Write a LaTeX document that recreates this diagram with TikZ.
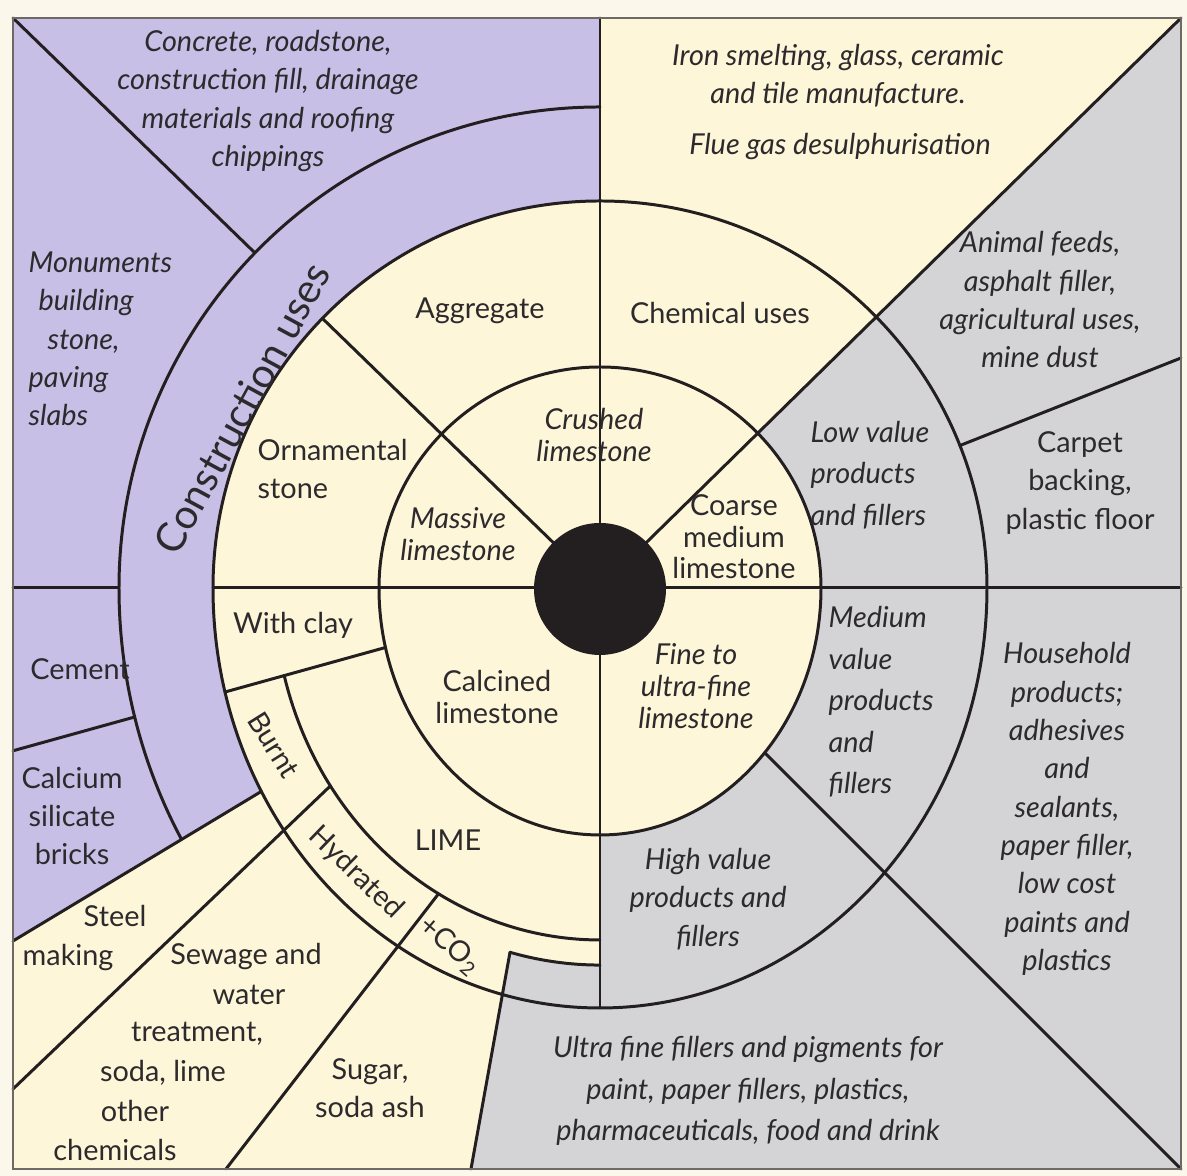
\documentclass[tikz,border=0pt]{standalone}
\usepackage{fontspec}
\setmainfont{Lato}
\newcommand\kFont{\fontsize{8.2pt}{10.9pt}\selectfont}
\newcommand\kTight{\fontsize{8.2pt}{9pt}\selectfont}
\newcommand\kLoose{\fontsize{8.2pt}{11.8pt}\selectfont}
\newcommand\kBig{\fontsize{11.6pt}{13pt}\selectfont}
\begin{document}
\begin{tikzpicture}[x=0.01cm,y=0.01cm,
  rim/.style={line width=0.85pt,color=kLine,line cap=round},
  lbl/.style={font=\kFont,text=kText,align=center,inner sep=0pt},
  ilbl/.style={lbl,font=\kFont\itshape}]
  \definecolor{kPurple}{RGB}{199,191,229}
  \definecolor{kCream}{RGB}{254,246,216}
  \definecolor{kGrey}{RGB}{212,212,215}
  \definecolor{kBack}{RGB}{251,247,234}
  \definecolor{kLine}{RGB}{35,31,32}
  \definecolor{kText}{RGB}{45,42,45}
  \definecolor{kFrame}{RGB}{110,105,100}

  \useasboundingbox (0,0) rectangle (1187,1176);
  \fill[kBack] (0,0) rectangle (1187,1176);
  \fill[kCream] (13,7) rectangle (1181,1158);

  % outer fields
  \fill[kPurple] (13,1158) -- (600,1158) -- (600,588) -- (13,235) -- cycle;
  \fill[kGrey] (600,588) -- (1181,1158) -- (1181,7) -- (471,7) -- (510,223.7)
    arc[start angle=255.05,end angle=270,x radius=349,y radius=377] -- cycle;

  % inner fields
  \fill[kCream] (600,588) -- (600,975) arc[start angle=90,end angle=180,radius=387] -- cycle;
  \fill[kCream] (600,588) -- (213,588) arc[start angle=180,end angle=270,x radius=387,y radius=420] -- cycle;
  \fill[kGrey] (510,223.7) arc[start angle=255.05,end angle=270,x radius=349,y radius=377]
    -- (600,168) arc[start angle=270,end angle=255.4,x radius=387,y radius=420] -- cycle;
  \fill[kCream] (821,588) arc[start angle=0,end angle=180,radius=221]
    arc[start angle=180,end angle=360,x radius=221,y radius=247] -- cycle;

  % dividers
  \foreach \ax/\ay/\bx/\by in { 600/1158/600/168, 213/588/1181/588, 13/588/119/588,
                                600/588/322.4/857.6, 254.9/923.1/13/1158,
                                600/588/1181/1158, 959.8/730.4/1181/818,
                                764.7/423.3/1181/7, 385.5/528.5/225.1/484.0,
                                134.7/459/13/425.2, 261.4/384.6/13/235,
                                330.4/390.1/13/87, 438.5/282.2/226/7, 471/7/510/223.7 }
  {
    \draw[rim] (\ax,\ay) -- (\bx,\by);
  }

  % rings
  \draw[rim] (821,588) arc[start angle=0,end angle=180,radius=221]
    arc[start angle=180,end angle=360,x radius=221,y radius=247];
  \draw[rim] (987,588) arc[start angle=0,end angle=180,radius=387]
    arc[start angle=180,end angle=360,x radius=387,y radius=420];
  \draw[rim] (600,1069) arc[start angle=90,end angle=180,radius=481]
    arc[start angle=180,end angle=209.5,x radius=481,y radius=510];
  \draw[rim] (284.2,500.5) arc[start angle=194.4,end angle=270,x radius=326,y radius=352];
  \draw[rim] (510,223.7) arc[start angle=255.05,end angle=270,x radius=349,y radius=377];

  \draw[line width=0.6pt,kFrame] (13,7) rectangle (1181,1158);
  \fill[kLine] (600,587) circle[radius=66];

  % labels
  \node[ilbl] (concrete) at (268,1075) {Concrete, roadstone,\\construction fill, drainage\\materials and roofing\\chippings};
  \node[ilbl,align=left,anchor=west] (monuments) at (28,837) {Monuments\\\hspace*{0.1cm}building\\\hspace*{0.19cm}stone,\\paving\\slabs};
  \node[lbl,font=\kBig,rotate=61.5] (construction) at (242,768) {Construction uses};
  \node[lbl] (aggregate) at (480,865) {Aggregate};
  \node[lbl,align=left,anchor=west] (ornamental) at (257,707) {Ornamental\\stone};
  \node[ilbl,font=\kTight\itshape] (crushed) at (594,741) {Crushed\\limestone};
  \node[ilbl,font=\kTight\itshape] (massive) at (458,642) {Massive\\limestone};
  \node[lbl] (chemical) at (720,863) {Chemical uses};
  \node[ilbl] (iron) at (838,1100) {Iron smelting, glass, ceramic\\and tile manufacture.};
  \node[ilbl] (flue) at (840,1029) {Flue gas desulphurisation};
  \node[ilbl] (animal) at (1040,876) {Animal feeds,\\asphalt filler,\\agricultural uses,\\mine dust};
  \node[lbl] (carpet) at (1080,693) {Carpet\\backing,\\plastic floor};
  \node[ilbl,font=\kLoose\itshape,align=left,anchor=west] (lowvalue) at (810,701) {Low value\\products\\and fillers};
  \node[lbl,font=\kTight] (coarse) at (734,639) {Coarse\\medium\\limestone};
  \node[lbl] (withclay) at (293,551) {With clay};
  \node[lbl,font=\kTight] (calcined) at (497,479) {Calcined\\limestone};
  \node[lbl,rotate=-58] (burnt) at (274,431) {Burnt};
  \node[lbl,rotate=-44] (hydrated) at (356,303) {Hydrated};
  \node[lbl,rotate=-41] (co2) at (450,230) {+CO\textsubscript{2}};
  \node[lbl] (lime) at (448,336) {LIME};
  \node[ilbl,font=\kTight\itshape] (fine) at (696,490) {Fine to\\ultra-fine\\limestone};
  \node[ilbl,font=\kLoose\itshape,align=left,anchor=west] (medium) at (828,474) {Medium\\value\\products\\and\\fillers};
  \node[ilbl] (household) at (1067,367) {Household\\products;\\adhesives\\and\\sealants,\\paper filler,\\low cost\\paints and\\plastics};
  \node[ilbl] (highvalue) at (708,277) {High value\\products and\\fillers};
  \node[ilbl,font=\kLoose\itshape] (ultra) at (748,85) {Ultra fine fillers and pigments for\\paint, paper fillers, plastics,\\pharmaceuticals, food and drink};
  \node[lbl] (cement) at (80,507) {Cement};
  \node[lbl] (calcium) at (72,360) {Calcium\\silicate\\bricks};
  \node[lbl,align=left,anchor=west] (steel) at (22,238) {\hspace*{0.61cm}Steel\\making};
  \foreach \txt/\x/\y [count=\i] in {Sewage and/246/219, water/249/181, {treatment,}/197/142,
                                     {soda, lime}/163/103, other/135/65, chemicals/115/26}
  {
    \node[lbl] (sewage\i) at (\x,\y) {\txt};
  }
  \node[lbl] (sugar) at (370,88) {Sugar,\\soda ash};
\end{tikzpicture}
\end{document}
